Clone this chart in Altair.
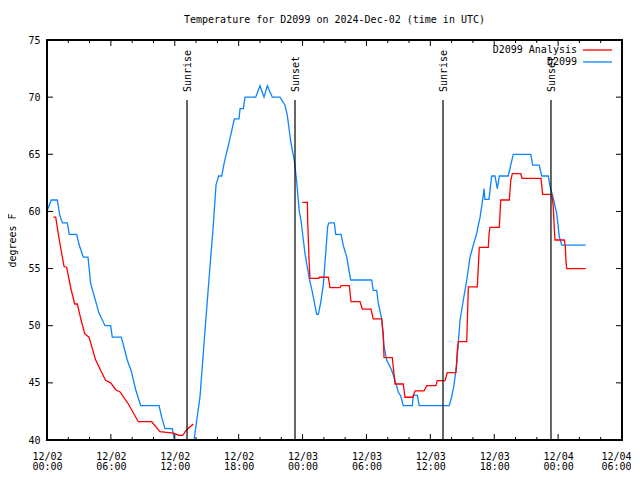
import altair as alt
import pandas as pd

# hours since 2024-12-02 00:00 UTC, temperature in deg F
obs_hours = [0.03, 0.40, 0.97, 1.19, 1.44, 1.91, 2.09, 2.79, 3.01, 3.41, 3.85, 4.10, 4.88, 5.45, 5.98,
             6.13, 6.98, 7.54, 7.92, 8.33, 8.80, 10.52, 10.77, 11.08, 11.77, 11.96, 12.30, 13.50, 13.81,
             14.37, 14.84, 15.24, 15.62, 15.87, 16.12, 16.41, 16.65, 17.12, 17.59, 18.03, 18.13, 18.44,
             18.60, 19.60, 20.00, 20.38, 20.69, 21.16, 21.88, 22.35, 22.57, 22.89, 23.23, 23.45, 23.69,
             23.85, 24.23, 24.63, 24.95, 25.33, 25.48, 25.70, 25.95, 26.17, 26.36, 26.48, 26.98, 27.11,
             27.61, 27.83, 28.15, 28.52, 30.49, 30.64, 30.96, 31.11, 31.43, 31.65, 31.90, 32.37, 32.68,
             32.99, 33.22, 33.46, 34.31, 34.40, 34.78, 34.96, 37.78, 38.01, 38.22, 38.48, 38.79, 39.10,
             39.42, 39.73, 40.04, 40.36, 40.67, 40.92, 41.04, 41.13, 41.51, 41.76, 42.07, 42.29, 42.48,
             43.32, 43.55, 43.79, 45.43, 45.61, 46.23, 46.46, 47.08, 47.24, 47.55, 47.87, 48.11, 48.34,
             50.59]
obs_temps = [60.1, 61.0, 61.0, 59.7, 59.0, 59.0, 58.0, 58.0, 57.1, 56.0, 56.0, 53.7, 51.1, 50.0, 50.0,
             49.0, 49.0, 47.0, 46.0, 44.4, 43.0, 43.0, 42.0, 41.0, 41.0, 40.0, 39.0, 39.0, 40.0,
             43.8, 49.6, 54.4, 58.8, 62.3, 63.1, 63.1, 64.3, 66.1, 68.1, 68.1, 69.0, 69.0,
             70.0, 70.0, 71.0, 70.0, 71.0, 70.0, 70.0, 69.3, 68.4, 66.1, 64.4, 62.6, 60.0,
             59.25, 56.3, 54.15, 52.8, 51.0, 51.0, 52.0, 53.6, 56.3, 58.7, 59.0, 59.0, 58.0,
             58.0, 57.0, 56.0, 54.0, 54.0, 53.1, 53.1, 52.0, 50.6, 48.2, 47.0, 46.1, 45.25,
             44.2, 43.85, 43.0, 43.0, 43.9, 43.9, 43.0, 43.0, 43.8, 44.8, 46.7, 50.5, 52.25,
             54.0, 56.0, 57.06, 58.1, 59.5, 61.06, 62.0, 61.06, 61.06, 63.1, 63.1, 62.0, 63.1,
             63.1, 64.06, 65.0, 65.0, 64.06, 64.06, 63.1, 63.1, 62.2, 61.15, 59.8, 57.8, 57.06,
             57.06]

ana1_hours = [0.59, 0.82, 1.03, 1.29, 1.60, 1.85, 2.23, 2.60, 2.85, 3.16, 3.54, 3.94, 4.57, 5.51, 5.98,
              6.45, 6.86, 7.64, 8.57, 9.83, 10.61, 11.86, 12.42, 12.74, 13.12, 13.74]
ana1_temps = [59.5, 59.5, 58.2, 56.8, 55.2, 55.1, 53.3, 51.9, 51.9, 50.65, 49.3, 49.0, 47.0, 45.2, 45.0,
              44.4, 44.2, 43.15, 41.6, 41.6, 40.73, 40.6, 40.4, 40.4, 40.9, 41.4]

ana2_hours = [23.98, 24.45, 24.48, 24.61, 24.70, 25.54, 25.57, 26.42, 26.58, 27.52, 27.61, 28.39, 28.55,
              29.40, 29.61, 30.43, 30.64, 31.43, 31.58, 31.65, 32.43, 32.68, 33.46, 33.62, 34.35, 34.56,
              35.41, 35.66, 36.53, 36.65, 37.38, 37.59, 38.41, 38.53, 38.63, 39.42, 39.57, 40.41, 40.60,
              41.44, 41.53, 41.60, 42.48, 42.54, 42.61, 43.42, 43.55, 43.70, 44.49, 44.61, 46.39, 46.55,
              47.40, 47.55, 47.64, 47.71, 48.58, 48.68, 48.74, 48.81, 50.59]
ana2_temps = [60.8, 60.8, 59.25, 55.75, 54.15, 54.15, 54.24, 54.24, 53.33, 53.33, 53.5, 53.5, 52.1,
              52.1, 51.46, 51.46, 50.6, 50.6, 49.3, 47.2, 47.2, 44.9, 44.9, 43.74, 43.74, 44.3,
              44.3, 44.75, 44.75, 45.2, 45.2, 45.9, 45.9, 47.8, 48.6, 48.6, 53.4, 53.4, 56.86,
              56.86, 58.2, 58.6, 58.6, 59.8, 61.0, 61.0, 62.7, 63.3, 63.3, 62.9, 62.9, 61.5,
              61.5, 60.4, 58.5, 57.5, 57.5, 56.9, 55.6, 55.0, 55.0]

sun_labels = ["Sunrise", "Sunset", "Sunrise", "Sunset"]
sun_hours = [13.15, 23.29, 37.19, 47.33]

x_major = [0, 6, 12, 18, 24, 30, 36, 42, 48, 54]
x_minor = [2, 4, 8, 10, 14, 16, 20, 22, 26, 28, 32, 34, 38, 40, 44, 46, 50, 52]
y_major = [40, 45, 50, 55, 60, 65, 70, 75]

FONT = "DejaVu Sans Mono"
BLUE = "#0a84ff"
RED = "#ff0000"
W, H = 575, 400

rows = []
for h, t in zip(obs_hours, obs_temps):
    rows.append({"h": h, "t": t, "series": "D2099", "seg": "obs"})
for h, t in zip(ana1_hours, ana1_temps):
    rows.append({"h": h, "t": t, "series": "D2099 Analysis", "seg": "a1"})
for h, t in zip(ana2_hours, ana2_temps):
    rows.append({"h": h, "t": t, "series": "D2099 Analysis", "seg": "a2"})
df = pd.DataFrame(rows)

xscale = alt.Scale(domain=[0, 54], nice=False, zero=False)
yscale = alt.Scale(domain=[40, 75], nice=False, zero=False)

label_expr = ("['12/0' + (2 + floor(datum.value / 24)), "
              "((datum.value % 24) < 10 ? '0' : '') + (datum.value % 24) + ':00']")

x_axis = alt.Axis(values=x_major, labelExpr=label_expr, ticks=False, domain=False,
                  grid=False, title=None, labelPadding=11, labelFont=FONT,
                  labelFontSize=10, labelColor="black", labelLineHeight=10,
                  labelFlush=False, labelOverlap=False,
                  labelAlign=alt.condition("datum.value >= 54", alt.value("right"),
                                           alt.value("center")),
                  labelOffset=alt.condition("datum.value >= 54", alt.value(9), alt.value(0)))
y_axis = alt.Axis(values=y_major, ticks=False, domain=False, grid=False,
                  title="degrees F", titleFont=FONT, titleFontSize=10,
                  titleFontWeight="normal", titlePadding=10, labelPadding=7,
                  labelFont=FONT, labelFontSize=10, labelColor="black")


def X(field):
    return alt.X(field, scale=xscale, axis=x_axis)


def Y(field):
    return alt.Y(field, scale=yscale, axis=y_axis)


lines = alt.Chart(df).mark_line(strokeWidth=1.3, clip=True, interpolate="linear").encode(
    x=X("h:Q"), y=Y("t:Q"),
    color=alt.Color("series:N", scale=alt.Scale(domain=["D2099 Analysis", "D2099"],
                                                 range=[RED, BLUE]), legend=None),
    detail="seg:N",
)

sun_df = pd.DataFrame({"h": sun_hours, "label": sun_labels,
                       "t": [40] * 4, "t1": [69.75] * 4})
sun_rules = alt.Chart(sun_df).mark_rule(color="black", strokeWidth=1.2).encode(
    x=X("h:Q"), y=Y("t:Q"), y2="t1:Q")
sun_text = alt.Chart(sun_df).transform_calculate(t="70.45").mark_text(
    angle=270, align="left", baseline="middle", font=FONT, fontSize=10, color="black", dy=1
).encode(x=X("h:Q"), y=Y("t:Q"), text="label:N")

xmaj = pd.DataFrame({"h": x_major})
xmin = pd.DataFrame({"h": x_minor})
ymaj = pd.DataFrame({"t": y_major})
MAJ, MIN = 6, 3
tick_layers = []
for data, ln in [(xmaj, MAJ), (xmin, MIN)]:
    tick_layers.append(alt.Chart(data).mark_rule(color="black", strokeWidth=1).encode(
        x=X("h:Q"), y=alt.value(H), y2=alt.value(H - ln)))
    tick_layers.append(alt.Chart(data).mark_rule(color="black", strokeWidth=1).encode(
        x=X("h:Q"), y=alt.value(0), y2=alt.value(ln)))
tick_layers.append(alt.Chart(ymaj).mark_rule(color="black", strokeWidth=1).encode(
    y=Y("t:Q"), x=alt.value(0), x2=alt.value(MAJ)))
tick_layers.append(alt.Chart(ymaj).mark_rule(color="black", strokeWidth=1).encode(
    y=Y("t:Q"), x=alt.value(W), x2=alt.value(W - MAJ)))

border = alt.Chart(xmaj).mark_rect(fill=None, stroke="black", strokeWidth=1.2).encode(
    x=alt.value(0), x2=alt.value(W), y=alt.value(0), y2=alt.value(H))

leg_names = ["D2099 Analysis", "D2099"]
leg_colors = [RED, BLUE]
leg_rows = [10, 22]
leg_layers = []
for name, col, yy in zip(leg_names, leg_colors, leg_rows):
    d = pd.DataFrame({"name": [name]})
    leg_layers.append(alt.Chart(d).mark_text(align="right", baseline="middle", font=FONT,
                                             fontSize=10, color="black").encode(
        x=alt.value(530), y=alt.value(yy), text="name:N"))
    leg_layers.append(alt.Chart(d).mark_rule(strokeWidth=1.3, color=col).encode(
        x=alt.value(536), x2=alt.value(565), y=alt.value(yy)))

chart = alt.layer(lines, sun_rules, sun_text, *tick_layers, border, *leg_layers).properties(
    width=W, height=H,
    title=alt.TitleParams("Temperature for D2099 on 2024-Dec-02 (time in UTC)", font=FONT,
                          fontSize=10, fontWeight="normal", color="black", offset=10,
                          anchor="middle"),
    autosize=alt.AutoSizeParams(type="none"),
    padding={"left": 39, "top": 32, "right": 9, "bottom": 36},
).configure_view(stroke=None).configure(background="white")

chart.save("out.html", embed_options={"renderer": "svg", "actions": False})
